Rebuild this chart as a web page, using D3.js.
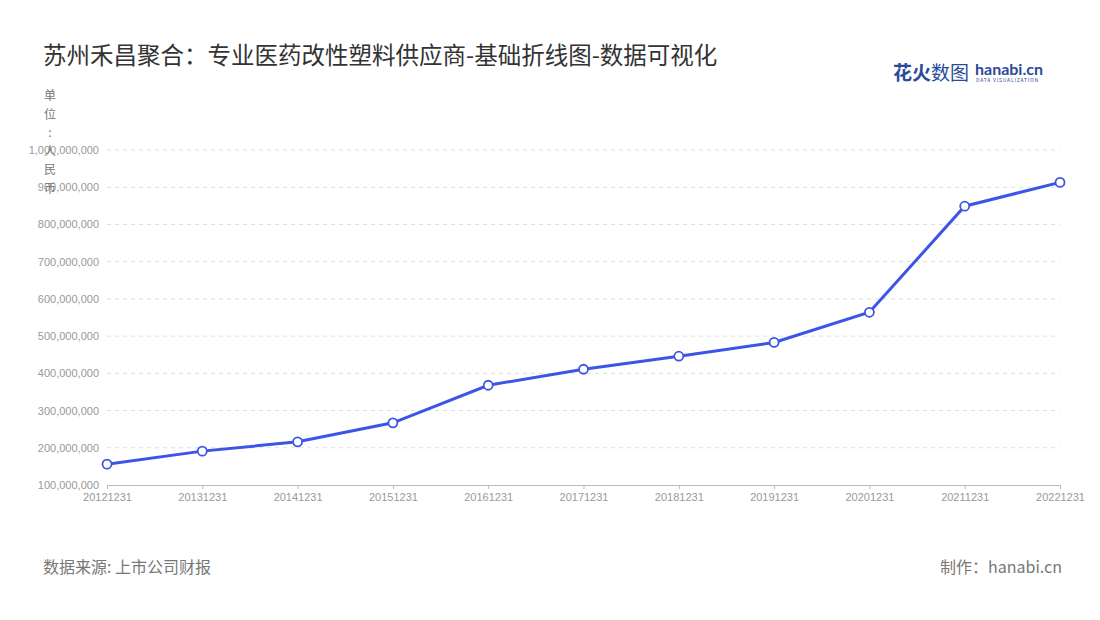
<!DOCTYPE html>
<html><head><meta charset="utf-8">
<script src="https://cdn.jsdelivr.net/npm/d3@7"></script>
<style>body{margin:0;background:#fff;font-family:"Noto Sans CJK SC","Noto Sans",sans-serif}</style>
</head><body><svg id="c" width="1100" height="620"></svg>
<script>
var years = ["20121231","20131231","20141231","20151231","20161231","20171231","20181231","20191231","20201231","20211231","20221231"];
var revenue = [156e6,191e6,216e6,267e6,368e6,411e6,446e6,483e6,564e6,849e6,913e6];
var yTicks = [1e8,2e8,3e8,4e8,5e8,6e8,7e8,8e8,9e8,1e9];

var svg = d3.select("#c");
var x = d3.scalePoint().domain(years).range([107, 1060]);
var y = d3.scaleLinear().domain([1e8, 1e9]).range([485, 150]);

svg.append("text").attr("x", 43).attr("y", 64).attr("font-size", 23.5).attr("fill", "#333")
    .text("苏州禾昌聚合：专业医药改性塑料供应商-基础折线图-数据可视化");

// logo
svg.append("text").attr("x", 893).attr("y", 80).attr("font-size", 19).attr("font-weight", "bold").attr("fill", "#2a4a9a").text("花火");
svg.append("text").attr("x", 931).attr("y", 80).attr("font-size", 19).attr("fill", "#2a4a9a").text("数图");
svg.append("text").attr("x", 975).attr("y", 75).attr("font-size", 16).attr("font-weight", "bold").attr("fill", "#2a4a9a").attr("font-family", "Lato").text("hanabi.cn");
svg.append("text").attr("x", 976).attr("y", 82).attr("font-size", 5).attr("fill", "#2a4a9a").attr("letter-spacing", 0.8).text("DATA VISUALIZATION");

// grid
svg.append("g").selectAll("line").data(yTicks.slice(1)).join("line")
    .attr("x1", 107).attr("x2", 1060).attr("y1", d => y(d)).attr("y2", d => y(d))
    .attr("stroke", "#ddd").attr("stroke-dasharray", "4,4");

var fmt = d3.format(",");
var ya = svg.append("g").attr("transform", "translate(107,0)")
    .call(d3.axisLeft(y).tickValues(yTicks).tickFormat(fmt).tickSize(0).tickPadding(8));
ya.select(".domain").remove();
ya.selectAll("text").attr("fill", "#999").attr("font-size", 11);

var xa = svg.append("g").attr("transform", "translate(0,485)")
    .call(d3.axisBottom(x).tickSize(4).tickPadding(4));
xa.select(".domain").attr("stroke", "#bbb");
xa.selectAll("line").attr("stroke", "#bbb");
xa.selectAll("text").attr("fill", "#999").attr("font-size", 11);

// unit label vertical
svg.append("g").selectAll("text").data("单位：人民币".split("")).join("text")
    .attr("x", 50).attr("y", (d, i) => 100 + i * 18.5).attr("text-anchor", "middle")
    .attr("font-size", 12).attr("fill", "#777").text(d => d === "：" ? ":" : d);

var line = d3.line().x((d, i) => x(years[i])).y(d => y(d));
svg.append("path").datum(revenue).attr("d", line).attr("fill", "none")
    .attr("stroke", "#3d55e6").attr("stroke-width", 3);
svg.append("g").selectAll("circle").data(revenue).join("circle")
    .attr("cx", (d, i) => x(years[i])).attr("cy", d => y(d)).attr("r", 4.5)
    .attr("fill", "#fff").attr("stroke", "#3d55e6").attr("stroke-width", 1.8);

svg.append("text").attr("x", 43).attr("y", 573).attr("font-size", 16).attr("fill", "#777").text("数据来源: 上市公司财报");
svg.append("text").attr("x", 1062).attr("y", 573).attr("font-size", 16).attr("fill", "#777").attr("text-anchor", "end").text("制作：hanabi.cn");
</script></body></html>
